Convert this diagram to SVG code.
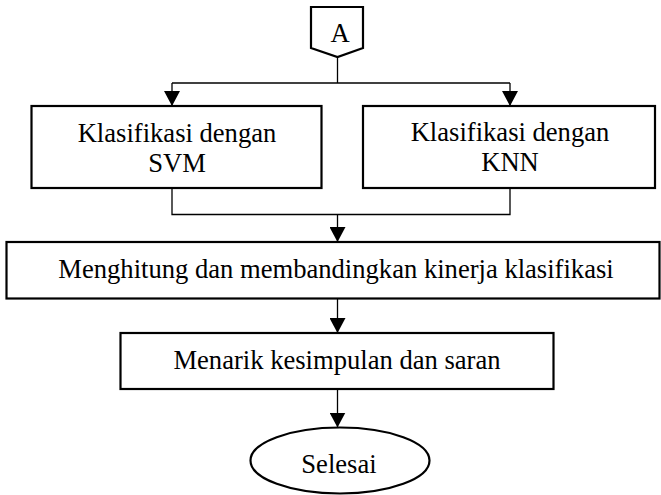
<svg xmlns="http://www.w3.org/2000/svg" width="661" height="495" viewBox="0 0 661 495">
<defs>
<marker id="arr" markerUnits="userSpaceOnUse" markerWidth="16" markerHeight="16" viewBox="0 0 16 16" refX="15" refY="8" orient="auto">
<path d="M0,0 L15,8 L0,16 Z" fill="#000"/>
</marker>
<style>
.box{fill:#fff;stroke:#000;stroke-width:2.2}
.t{font-family:"Liberation Serif","Times New Roman",serif;font-size:26.6px;fill:#000;text-anchor:middle}
.c{fill:none;stroke:#000;stroke-width:1.3}
</style>
</defs>
<rect width="661" height="495" fill="#fff"/>
<g id="connectors">
<path class="c" d="M337.5,57 V83"/>
<path class="c" d="M172,83 H510"/>
<path class="c" d="M172,83 V106" marker-end="url(#arr)"/>
<path class="c" d="M510,83 V106" marker-end="url(#arr)"/>
<path class="c" d="M172,188 V214.5 H510 V188"/>
<path class="c" d="M337.5,214.5 V242" marker-end="url(#arr)"/>
<path class="c" d="M337.5,299 V333" marker-end="url(#arr)"/>
<path class="c" d="M337.5,389 V427.5" marker-end="url(#arr)"/>
</g>
<g id="nodeA">
<polygon class="box" points="311,7 363,7 363,48 337.5,57 311,48"/>
<text class="t" x="340" y="41.5">A</text>
</g>
<g id="svm">
<rect class="box" x="31.5" y="106" width="290" height="82"/>
<text class="t" x="177" y="141.5">Klasifikasi dengan</text>
<text class="t" x="177" y="171.5">SVM</text>
</g>
<g id="knn">
<rect class="box" x="363" y="106" width="292" height="82"/>
<text class="t" x="510" y="140.5">Klasifikasi dengan</text>
<text class="t" x="510" y="170.5">KNN</text>
</g>
<g id="hitung">
<rect class="box" x="6.5" y="242" width="653" height="56.5"/>
<text class="t" x="336" y="278">Menghitung dan membandingkan kinerja klasifikasi</text>
</g>
<g id="menarik">
<rect class="box" x="120.5" y="333" width="433" height="56"/>
<text class="t" x="337" y="368.5">Menarik kesimpulan dan saran</text>
</g>
<g id="selesai">
<ellipse class="box" cx="340" cy="460.5" rx="89.5" ry="33"/>
<text class="t" x="339" y="473">Selesai</text>
</g>
</svg>
